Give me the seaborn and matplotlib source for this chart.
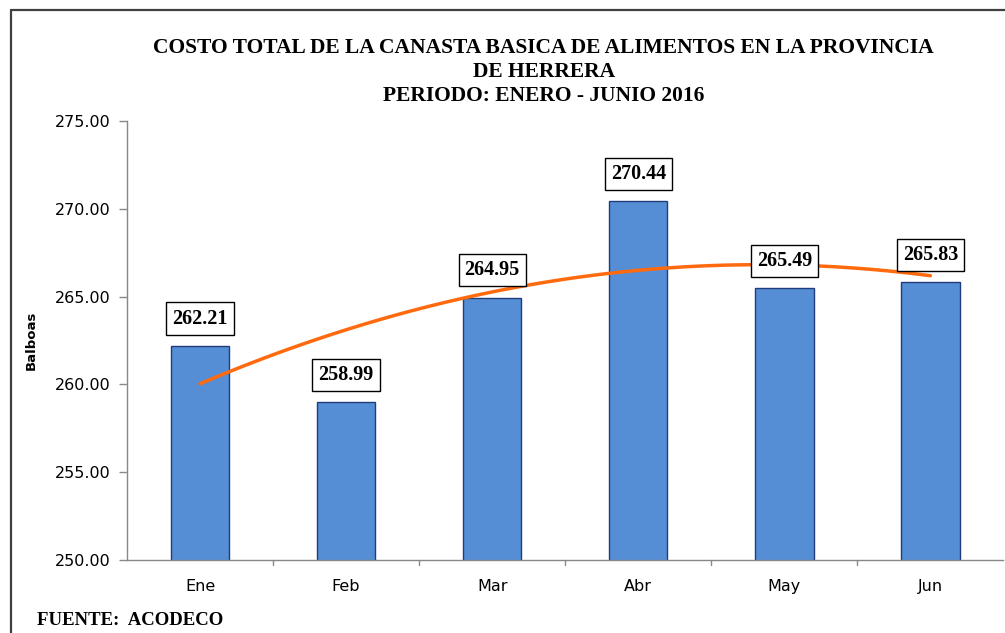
#! /usr/bin/env python3

import numpy as np
import pandas as pd
import seaborn as sns
import matplotlib
matplotlib.use("Agg")
import matplotlib.pyplot as plt
from matplotlib.lines import Line2D

sns.set_style("white")
plt.rcParams["text.color"] = "black"
plt.rcParams["axes.labelcolor"] = "black"
plt.rcParams["xtick.color"] = "black"
plt.rcParams["ytick.color"] = "black"

meses = ["Ene", "Feb", "Mar", "Abr", "May", "Jun"]
costo = [262.21, 258.99, 264.95, 270.44, 265.49, 265.83]
yticks = [250, 255, 260, 265, 270, 275]

df = pd.DataFrame({"mes": meses, "costo": costo, "pos": np.arange(len(meses))})

fig = plt.figure(figsize=(10.05, 6.33), dpi=100)
ax = fig.add_axes([0.1264, 0.1153, 0.872, 0.6935])

sns.barplot(data=df, x="mes", y="costo", ax=ax, width=0.4,
            color="#558ED5", edgecolor="#1F3D7A", linewidth=1.0, saturation=1)
# linea de tendencia polinomica (orden 2)
sns.regplot(data=df, x="pos", y="costo", ax=ax, order=2, ci=None, scatter=False,
            truncate=True, line_kws={"color": "#FF6A0E", "linewidth": 2.5})

ax.set_ylim(250, 275)
ax.set_xlim(-0.5, 5.5)
ax.set_yticks(yticks)
ax.set_yticklabels([f"{v:.2f}" for v in yticks], fontsize=11.5, family="DejaVu Sans")
ax.set_xticks(range(len(meses)))
ax.set_xticklabels(meses, fontsize=11.5, family="DejaVu Sans")
ax.tick_params(axis="x", length=0, pad=14)
ax.tick_params(axis="y", length=6, width=1, color="#888888", pad=6, left=True)
# marcas entre categorias
for b in np.arange(0.5, 5.5, 1.0):
    ax.plot([b, b], [0, -0.012], transform=ax.get_xaxis_transform(),
            color="#888888", lw=1, clip_on=False)

for s in ["top", "right"]:
    ax.spines[s].set_visible(False)
for s in ["left", "bottom"]:
    ax.spines[s].set_color("#888888")
    ax.spines[s].set_linewidth(1)

ax.set_xlabel("")
ax.set_ylabel("Balboas", fontsize=9.5, fontweight="bold", family="DejaVu Sans", labelpad=12)

for i, v in enumerate(costo):
    ax.annotate(f"{v:.2f}", (i, v), xytext=(0, 19.5), textcoords="offset points",
                ha="center", va="center", fontsize=14.5, fontweight="bold",
                family="Liberation Serif",
                bbox=dict(boxstyle="square,pad=0.3", fc="white", ec="black", lw=1))

fig.text(0.541, 0.886, "COSTO TOTAL DE LA CANASTA BASICA DE ALIMENTOS EN LA PROVINCIA\nDE HERRERA\nPERIODO: ENERO - JUNIO 2016",
         ha="center", va="center", fontsize=15.5, fontweight="bold",
         family="Liberation Serif", linespacing=1.25)

fig.text(0.037, 0.02, "FUENTE:  ACODECO", ha="left", va="center", fontsize=13.5,
         fontweight="bold", family="Liberation Serif")

# marco exterior
fig.add_artist(Line2D([0.0105, 0.0105], [0, 1 - 10 / 633], color="#404040", lw=1.6,
                      transform=fig.transFigure))
fig.add_artist(Line2D([0.0105, 1], [1 - 10 / 633, 1 - 10 / 633], color="#404040", lw=1.6,
                      transform=fig.transFigure))

plt.savefig("out.png", dpi=100)
